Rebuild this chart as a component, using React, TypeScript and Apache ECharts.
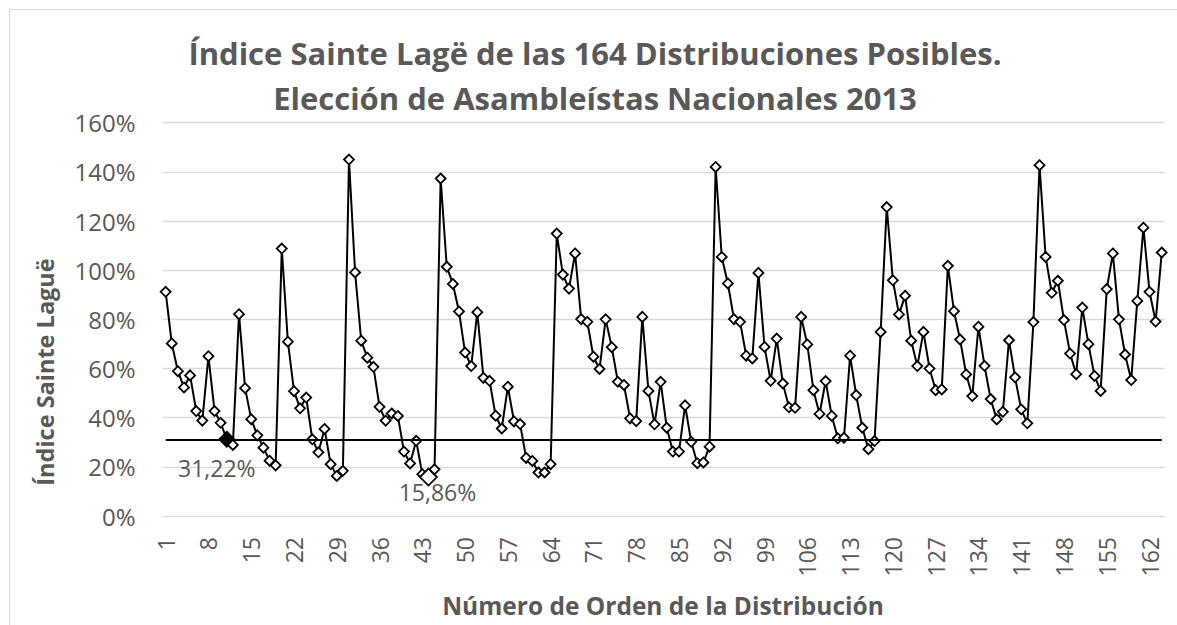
import React, { useEffect, useRef } from "react";
import * as echarts from "echarts";

const values: number[] = [
  91.2, 70.2, 58.9, 52.3, 57.2, 42.7, 38.8, 65.0, 42.7, 37.9,
  31.22, 28.9, 82.1, 52.0, 39.4, 32.8, 27.8, 22.5, 20.6, 108.8,
  70.9, 50.8, 43.8, 48.2, 31.2, 25.9, 35.4, 21.1, 16.3, 18.4,
  145.0, 99.1, 71.3, 64.4, 60.7, 44.4, 38.8, 41.7, 40.7, 26.2,
  21.4, 30.6, 17.0, 15.86, 19.0, 137.3, 101.4, 94.4, 83.2, 66.5,
  61.0, 82.9, 56.2, 55.0, 40.8, 35.6, 52.6, 38.5, 37.4, 23.6,
  22.4, 17.7, 17.7, 21.1, 114.9, 98.2, 92.5, 106.8, 80.1, 79.0,
  64.8, 59.8, 80.0, 68.7, 54.6, 53.3, 39.7, 38.6, 81.0, 50.9,
  37.3, 54.6, 35.9, 26.2, 26.2, 45.0, 30.2, 21.5, 21.8, 28.2,
  142.0, 105.4, 94.6, 80.1, 79.0, 65.2, 64.1, 98.9, 68.8, 55.0,
  72.2, 53.9, 44.2, 44.0, 81.0, 69.8, 51.2, 41.5, 54.9, 40.7,
  31.6, 31.8, 65.2, 49.2, 35.9, 27.2, 30.5, 74.9, 125.7, 95.9,
  82.0, 89.6, 71.3, 61.0, 74.9, 60.0, 51.2, 51.5, 101.8, 83.3,
  71.8, 57.6, 48.8, 77.0, 61.1, 47.6, 39.3, 42.4, 71.5, 56.4,
  43.4, 37.7, 78.9, 142.7, 105.4, 90.8, 95.7, 79.7, 66.1, 57.7,
  84.8, 69.9, 57.0, 50.9, 92.3, 106.8, 80.0, 65.7, 55.3, 87.5,
  117.3, 91.2, 79.1, 107.2,
];

const categories: string[] = values.map((_, i) => String(i + 1));

const thresholdValue = 31.22;
const thresholdIndex = 10; // distribution 11
const thresholdLabel = "31,22%";
const minIndex = 43; // distribution 44
const minLabel = "15,86%";

const titleLine1 = "Índice Sainte Lagë de las 164 Distribuciones Posibles.";
const titleLine2 = "Elección de Asambleístas Nacionales 2013";
const yAxisTitle = "Índice Sainte Laguë";
const xAxisTitle = "Número de Orden de la Distribución";

const GRAY = "#595959";
const FONT = "'Open Sans', 'Noto Sans', sans-serif";

export default function App() {
  const ref = useRef<HTMLDivElement>(null);
  useEffect(() => {
    if (!ref.current) return;
    const chart = echarts.init(ref.current, undefined, { renderer: "svg" });
    const seriesData = values.map((v, i) => {
      if (i === thresholdIndex) {
        return {
          value: v,
          symbolSize: 15,
          itemStyle: { color: "#000", borderColor: "#000" },
          label: {
            show: true,
            formatter: thresholdLabel,
            position: "inside",
            offset: [-10, 29],
            color: GRAY,
            fontSize: 23,
            fontFamily: FONT,
          },
        };
      }
      if (i === minIndex) {
        return {
          value: v,
          symbolSize: 17,
          label: {
            show: true,
            formatter: minLabel,
            position: "inside",
            offset: [9, 15],
            color: GRAY,
            fontSize: 23,
            fontFamily: FONT,
          },
        };
      }
      return v;
    });

    chart.setOption({
      animation: false,
      backgroundColor: "#fff",
      textStyle: { fontFamily: FONT },
      grid: { left: 162.6, right: 12.2, top: 122.7, bottom: 109, containLabel: false },
      graphic: [
        {
          type: "rect",
          shape: { x: 9.5, y: 9.5, width: 1300, height: 800 },
          style: { fill: "none", stroke: "#d9d9d9", lineWidth: 1 },
          silent: true,
          z: -1,
        },
        {
          type: "text",
          x: 595,
          y: 53,
          style: {
            text: titleLine1,
            fill: GRAY,
            font: `bold 31px ${FONT}`,
            align: "center",
            verticalAlign: "middle",
          },
        },
        {
          type: "text",
          x: 595,
          y: 98,
          style: {
            text: titleLine2,
            fill: GRAY,
            font: `bold 31px ${FONT}`,
            align: "center",
            verticalAlign: "middle",
          },
        },
        {
          type: "text",
          x: 45,
          y: 372,
          rotation: Math.PI / 2,
          style: {
            text: yAxisTitle,
            fill: GRAY,
            font: `bold 23.5px ${FONT}`,
            align: "center",
            verticalAlign: "middle",
          },
        },
        {
          type: "text",
          x: 663,
          y: 605,
          style: {
            text: xAxisTitle,
            fill: GRAY,
            font: `bold 24.5px ${FONT}`,
            align: "center",
            verticalAlign: "middle",
          },
        },
      ],
      xAxis: {
        type: "category",
        data: categories,
        boundaryGap: true,
        axisLine: { show: false },
        axisTick: { show: false },
        axisLabel: {
          interval: 6,
          rotate: 90,
          margin: 21,
          color: GRAY,
          fontSize: 23,
          fontFamily: FONT,
        },
        splitLine: { show: false },
      },
      yAxis: {
        type: "value",
        min: 0,
        max: 160,
        interval: 20,
        axisLine: { show: false },
        axisTick: { show: false },
        axisLabel: {
          formatter: "{value}%",
          margin: 27,
          color: GRAY,
          fontSize: 24,
          fontFamily: FONT,
        },
        splitLine: { lineStyle: { color: "#d9d9d9", width: 1.3 } },
      },
      series: [
        {
          type: "line",
          data: seriesData,
          symbol: "diamond",
          symbolSize: 10,
          showAllSymbol: true,
          lineStyle: { color: "#000", width: 2 },
          itemStyle: { color: "#fff", borderColor: "#000", borderWidth: 1.8 },
          z: 3,
          markLine: {
            silent: true,
            symbol: "none",
            label: { show: false },
            lineStyle: { color: "#000", width: 2, type: "solid" },
            data: [
              [
                { coord: [categories[0], thresholdValue] },
                { coord: [categories[categories.length - 1], thresholdValue] },
              ],
            ],
          },
        },
      ],
    });
    return () => chart.dispose();
  }, []);
  return (
    <div
      ref={ref}
      style={{ position: "absolute", left: 0, top: 0, width: 1177, height: 625 }}
    />
  );
}
